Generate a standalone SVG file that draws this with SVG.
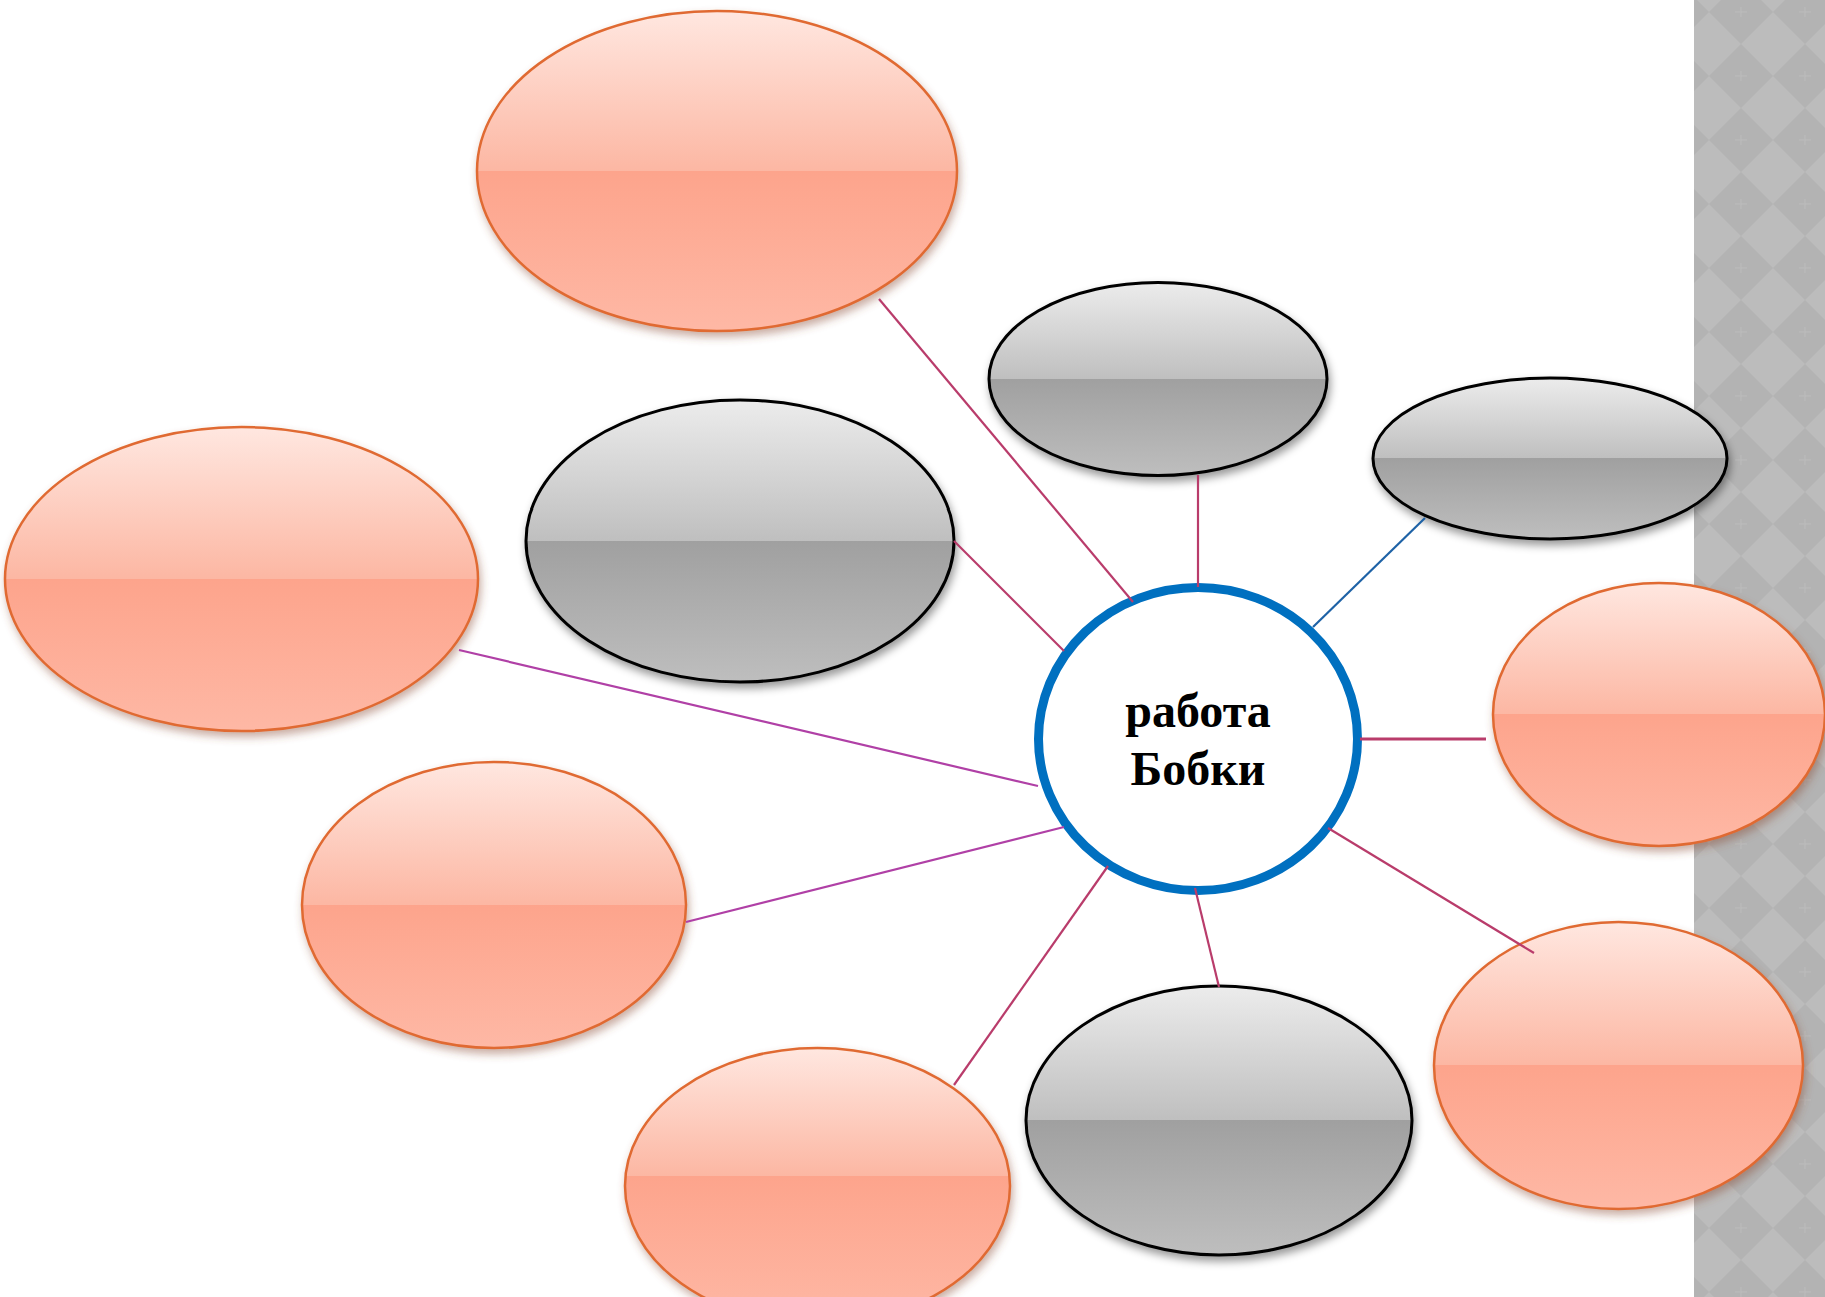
<svg xmlns="http://www.w3.org/2000/svg" width="1825" height="1297" viewBox="0 0 1825 1297">
<defs>
<style>
.sal{stroke:#e06a32;stroke-width:2.5;filter:url(#shS)}
.gry{stroke:#000;stroke-width:3;filter:url(#shG)}
.c{stroke:#b93c6b;stroke-width:2.2;fill:none}
.p{stroke:#b040a6;stroke-width:2.2;fill:none}
.b{stroke:#1e62a6;stroke-width:2.2;fill:none}
.lbl{font-family:"Liberation Serif","Times New Roman",serif;font-weight:bold;font-size:48px;fill:#000;text-anchor:middle}
</style>
<linearGradient id="gS" x1="0" y1="0" x2="0" y2="1">
<stop offset="0" stop-color="#ffe7e0"/>
<stop offset="0.499" stop-color="#fcb7a3"/>
<stop offset="0.5" stop-color="#fda48c"/>
<stop offset="1" stop-color="#feb8a5"/>
</linearGradient>
<linearGradient id="gS2" x1="0" y1="0" x2="0" y2="1">
<stop offset="0" stop-color="#ffe7e0"/>
<stop offset="0.463" stop-color="#fcb7a3"/>
<stop offset="0.464" stop-color="#fda48c"/>
<stop offset="1" stop-color="#feb8a5"/>
</linearGradient>
<linearGradient id="gG" x1="0" y1="0" x2="0" y2="1">
<stop offset="0" stop-color="#ececec"/>
<stop offset="0.499" stop-color="#bfbfbf"/>
<stop offset="0.5" stop-color="#a0a0a0"/>
<stop offset="1" stop-color="#bebebe"/>
</linearGradient>
<filter id="shS" x="-10%" y="-10%" width="125%" height="130%">
<feDropShadow dx="2" dy="5" stdDeviation="4" flood-color="#8a4a30" flood-opacity="0.45"/>
</filter>
<filter id="shG" x="-10%" y="-10%" width="125%" height="130%">
<feDropShadow dx="2" dy="5" stdDeviation="4" flood-color="#000" flood-opacity="0.4"/>
</filter>
<pattern id="diam" patternUnits="userSpaceOnUse" x="1709" y="-20" width="64" height="64">
<rect width="64" height="64" fill="#bcbcbc"/>
<polygon points="32,0 64,32 32,64 0,32" fill="#b3b3b3"/>
<path d="M26 32h12M32 27v10" stroke="#c2c2c2" stroke-width="1" opacity="0.6"/>
</pattern>
</defs>
<rect width="1825" height="1297" fill="#fff"/>
<rect x="1694" y="0" width="131" height="1297" fill="url(#diam)"/>

<g id="node-top-salmon"><ellipse class="sal" cx="717" cy="171" rx="240" ry="160" fill="url(#gS)"/></g>
<g id="node-left-salmon"><ellipse class="sal" cx="241.5" cy="579" rx="236.5" ry="152" fill="url(#gS)"/></g>
<g id="node-gray-big"><ellipse class="gry" cx="740" cy="541" rx="214" ry="141" fill="url(#gG)"/></g>
<g id="node-gray-top"><ellipse class="gry" cx="1158" cy="379" rx="169" ry="96.5" fill="url(#gG)"/></g>
<g id="node-gray-right"><ellipse class="gry" cx="1550" cy="458.5" rx="177" ry="80.5" fill="url(#gG)"/></g>
<g id="node-right-salmon"><ellipse class="sal" cx="1659" cy="714.5" rx="166" ry="131.5" fill="url(#gS)"/></g>
<g id="node-bottomright-salmon"><ellipse class="sal" cx="1618.5" cy="1065.5" rx="184.5" ry="143.5" fill="url(#gS)"/></g>
<g id="node-gray-bottom"><ellipse class="gry" cx="1219" cy="1120.5" rx="193" ry="134.5" fill="url(#gG)"/></g>
<g id="node-bottom-salmon"><ellipse class="sal" cx="817.5" cy="1186" rx="192.5" ry="138" fill="url(#gS2)"/></g>
<g id="node-leftbottom-salmon"><ellipse class="sal" cx="494" cy="905" rx="192" ry="143" fill="url(#gS)"/></g>

<g id="node-center">
<ellipse cx="1198" cy="739" rx="159.5" ry="151.5" fill="#fff" stroke="#0070c0" stroke-width="9"/>
<text class="lbl" x="1198" y="727">работа</text>
<text class="lbl" x="1198" y="785">Бобки</text>
</g>

<g id="connectors">
<line class="c" x1="879" y1="299" x2="1133" y2="602"/>
<line class="c" x1="1198" y1="475" x2="1198" y2="587"/>
<line class="b" x1="1425" y1="518" x2="1313" y2="627"/>
<line class="c" x1="954" y1="541" x2="1064" y2="651"/>
<line class="p" x1="459" y1="650" x2="1038" y2="786"/>
<line class="p" x1="686" y1="922" x2="1064" y2="827"/>
<line class="c" x1="954" y1="1085" x2="1108" y2="866"/>
<line class="c" x1="1195" y1="888" x2="1219" y2="987"/>
<line class="c" x1="1328" y1="828" x2="1534" y2="953"/>
<line class="c" x1="1360" y1="739" x2="1486" y2="739" style="stroke-width:3"/>
</g>
</svg>
